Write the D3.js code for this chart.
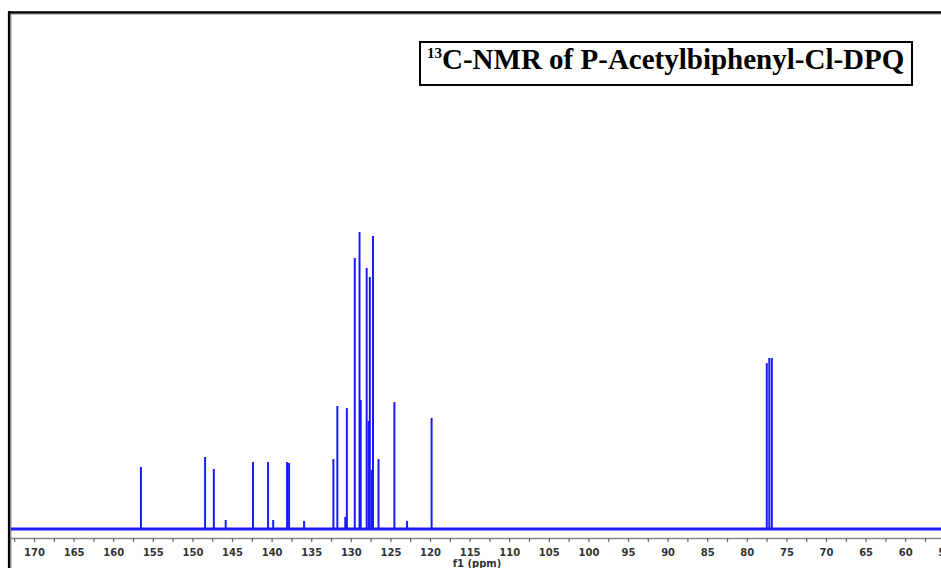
<!DOCTYPE html>
<html>
<head>
<meta charset="utf-8">
<script src="https://cdn.jsdelivr.net/npm/d3@7"></script>
<style>
body{margin:0;background:#fff;}
svg{display:block;}
</style>
</head>
<body>
<div id="chart"></div>
<script>
// peak positions (ppm) and heights (relative intensity)
var peakPpm=[156.5,148.4,147.3,145.8,142.35,140.45,139.8,138.05,137.8,135.9,
	132.2,131.7,130.7,130.5,129.5,128.9,128.75,128.0,127.75,127.6,127.35,127.2,126.5,
	124.5,122.9,119.8,77.48,77.16,76.84];
var peakHeight=[20.7,24,20,3,22.3,22.3,3,22.3,22,2.7,
	23.3,41,4,40.3,90.3,99,43,87,36,84,19.7,97.7,23.3,
	42.3,2.7,37,55.3,57,57];
var tickValues=d3.range(55,173,2.5);
var title='C-NMR of P-Acetylbiphenyl-Cl-DPQ';

var W=941,H=568;
var svg=d3.select('#chart').append('svg')
	.attr('width',W).attr('height',H);

var x=d3.scaleLinear().domain([173.16,55.48]).range([9,941]);
var y=d3.scaleLinear().domain([0,100]).range([529,229]);

//frame
svg.append('line').attr('x1',9).attr('x2',W).attr('y1',12.5).attr('y2',12.5)
	.style('stroke','#000').style('stroke-width',2.5);
svg.append('line').attr('x1',9.2).attr('x2',9.2).attr('y1',11).attr('y2',H)
	.style('stroke','#000').style('stroke-width',2.6);
svg.append('line').attr('x1',11).attr('x2',11).attr('y1',14).attr('y2',H)
	.style('stroke','#999').style('stroke-width',1);
svg.append('line').attr('x1',11).attr('x2',W).attr('y1',14.2).attr('y2',14.2)
	.style('stroke','#999').style('stroke-width',1);

//axis (the 55 label is cut by the right edge, as in the original)
var axis=d3.axisBottom(x).tickValues(tickValues).tickSize(4).tickPadding(7)
	.tickFormat(function(d){return d%5===0?d:'';});
var gx=svg.append('g').attr('transform','translate(0,538)').call(axis);
gx.select('.domain').attr('d','M11,0.5H'+W).style('stroke','#888').style('stroke-width',1.3);
gx.selectAll('.tick line').style('stroke','#666').style('stroke-width',1.2);
gx.selectAll('.tick text').style('font-family','"DejaVu Sans"').style('font-weight','bold')
	.style('font-size','10px').style('fill','#333');

svg.append('text').attr('x',477).attr('y',567).attr('text-anchor','middle')
	.style('font-family','"DejaVu Sans"').style('font-weight','bold')
	.style('font-size','10px').style('fill','#333').text('f1 (ppm)');

//baseline
svg.append('line').attr('x1',11).attr('x2',W).attr('y1',y(0)).attr('y2',y(0))
	.style('stroke','#1a1aff').style('stroke-width',3);

//peaks
svg.selectAll('.peak').data(peakPpm).enter().append('line').attr('class','peak')
	.attr('x1',function(d){return x(d);})
	.attr('x2',function(d){return x(d);})
	.attr('y1',y(0))
	.attr('y2',function(d,i){return y(peakHeight[i]);})
	.style('stroke','#1a1aff').style('stroke-width',2);

//title box
svg.append('rect').attr('x',420).attr('y',42).attr('width',492).attr('height',43)
	.style('fill','#fff').style('stroke','#000').style('stroke-width',2);
var t=svg.append('text').attr('x',427).attr('y',69)
	.style('font-family','"Liberation Serif"').style('font-weight','bold')
	.style('font-size','29px').style('fill','#000');
t.append('tspan').attr('dy',-11).style('font-size','15px').text('13');
t.append('tspan').attr('dy',11).text(title);
</script>
</body>
</html>
